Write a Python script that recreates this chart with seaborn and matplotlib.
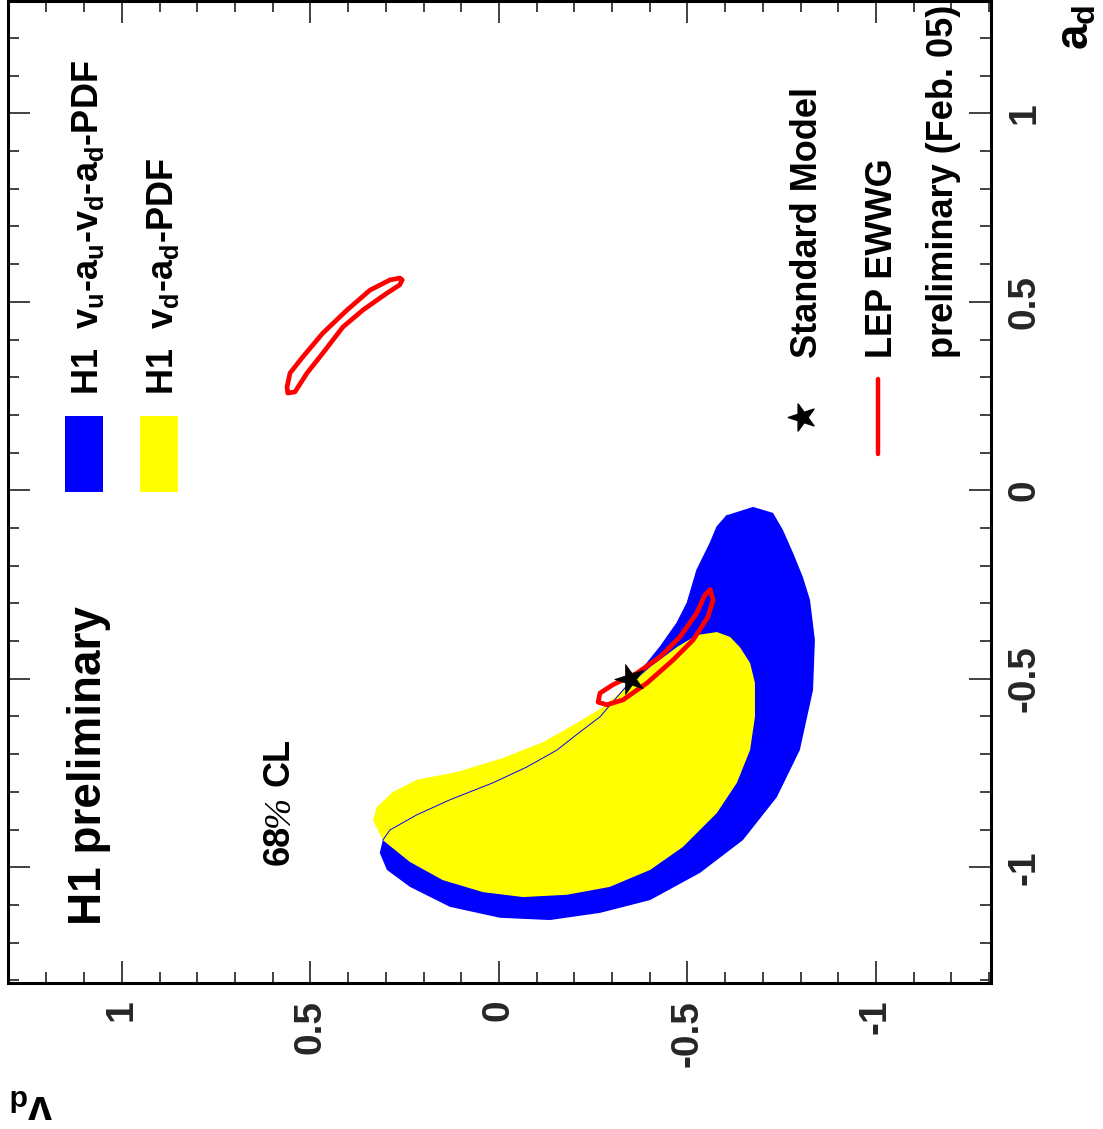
import numpy as np
import pandas as pd
import matplotlib
matplotlib.use("Agg")
import matplotlib.pyplot as plt
import seaborn as sns
from matplotlib.patches import Rectangle
from matplotlib.markers import MarkerStyle
from matplotlib.transforms import Affine2D
from matplotlib.ticker import MultipleLocator, FixedLocator

# ---------------- data (v_d, a_d) ----------------
blue_outer_vd = [-0.674, -0.727, -0.753, -0.780, -0.806, -0.825, -0.838, -0.833, -0.798, -0.737,
                 -0.647, -0.533, -0.401, -0.268, -0.135, -0.003, 0.130, 0.236, 0.297, 0.316, 0.308]
blue_outer_ad = [-0.044, -0.060, -0.105, -0.166, -0.230, -0.291, -0.397, -0.530, -0.689, -0.814,
                 -0.928, -1.015, -1.087, -1.121, -1.140, -1.134, -1.105, -1.052, -1.007, -0.962, -0.928]
blue_inner_vd = [0.289, 0.218, 0.130, 0.016, -0.074, -0.154, -0.215, -0.268, -0.329, -0.393,
                 -0.427, -0.472, -0.499, -0.525, -0.560, -0.578, -0.605]
blue_inner_ad = [-0.901, -0.861, -0.821, -0.776, -0.734, -0.689, -0.641, -0.601, -0.530, -0.458,
                 -0.416, -0.352, -0.299, -0.211, -0.140, -0.097, -0.066]

yellow_vd = [-0.578, -0.613, -0.639, -0.666, -0.679, -0.679, -0.666, -0.631, -0.578, -0.488,
             -0.401, -0.294, -0.180, -0.064, 0.042, 0.149, 0.236, 0.308, 0.334, 0.324,
             0.281, 0.218, 0.111, -0.011, -0.117, -0.207, -0.276, -0.340, -0.401, -0.472, -0.525]
yellow_ad = [-0.376, -0.389, -0.416, -0.458, -0.511, -0.601, -0.689, -0.776, -0.856, -0.946,
             -1.007, -1.052, -1.073, -1.079, -1.066, -1.034, -0.986, -0.928, -0.875, -0.840,
             -0.800, -0.768, -0.747, -0.710, -0.668, -0.617, -0.575, -0.522, -0.469, -0.416, -0.384]

lep1_vd = [-0.560, -0.568, -0.554, -0.515, -0.462, -0.393, -0.329, -0.286, -0.263, -0.268,
           -0.302, -0.366, -0.427, -0.480, -0.525, -0.546]
lep1_ad = [-0.264, -0.291, -0.336, -0.397, -0.450, -0.511, -0.556, -0.569, -0.562, -0.538,
           -0.516, -0.485, -0.442, -0.389, -0.325, -0.278]

lep2_vd = [0.257, 0.263, 0.297, 0.361, 0.414, 0.467, 0.509, 0.541, 0.560, 0.562,
           0.554, 0.520, 0.467, 0.403, 0.342, 0.289, 0.263]
lep2_ad = [0.558, 0.545, 0.523, 0.478, 0.433, 0.364, 0.311, 0.261, 0.258, 0.274,
           0.311, 0.354, 0.417, 0.478, 0.531, 0.558, 0.563]

sm_vd = [-0.347]
sm_ad = [-0.500]

tick_values = [1, 0.5, 0, -0.5, -1]
tick_labels = ["1", "0.5", "0", "-0.5", "-1"]

# ---------------- style ----------------
sns.set_style("white")
plt.rcParams['font.family'] = ['Liberation Sans', 'DejaVu Sans']
plt.rcParams['font.weight'] = 'bold'
plt.rcParams['mathtext.fontset'] = 'custom'
plt.rcParams['mathtext.rm'] = 'Liberation Sans:bold'
plt.rcParams['mathtext.bf'] = 'Liberation Sans:bold'
plt.rcParams['mathtext.it'] = 'Liberation Sans:italic'
plt.rcParams['mathtext.default'] = 'rm'

W, H = 1103, 1129
fig = plt.figure(figsize=(W / 100, H / 100), dpi=100)
L, R, T, B = 8, 991, 1, 983
ax = fig.add_axes([L / W, 1 - B / H, (R - L) / W, (B - T) / H])

BLUE, YELLOW, RED = '#0000ff', '#ffff00', '#ff0000'

# filled contours
ax.fill(blue_outer_vd + blue_inner_vd, blue_outer_ad + blue_inner_ad, color=BLUE, lw=0, zorder=1)
ax.fill(yellow_vd, yellow_ad, color=YELLOW, lw=0, zorder=2)
ax.plot([blue_outer_vd[-1]] + blue_inner_vd, [blue_outer_ad[-1]] + blue_inner_ad,
        color=BLUE, lw=0.7, zorder=3)

# LEP contours
for vd, ad in [(lep1_vd, lep1_ad), (lep2_vd, lep2_ad)]:
    df = pd.DataFrame({"vd": vd + vd[:1], "ad": ad + ad[:1]})
    sns.lineplot(data=df, x="vd", y="ad", sort=False, estimator=None, color=RED,
                 lw=3.4, ax=ax, zorder=4)

star = MarkerStyle('*', transform=Affine2D().rotate_deg(90))
sns.scatterplot(x=sm_vd, y=sm_ad, marker=star, s=520, color='black', edgecolor='black',
                linewidth=0.5, ax=ax, zorder=5)

# axes
ax.set_xlim(1.302, -1.305)
ax.set_ylim(-1.307, 1.298)
ax.set_xlabel("")
ax.set_ylabel("")
ax.xaxis.set_major_locator(FixedLocator(tick_values))
ax.yaxis.set_major_locator(FixedLocator(tick_values))
ax.set_xticklabels(tick_labels)
ax.set_yticklabels(tick_labels)
ax.xaxis.set_minor_locator(MultipleLocator(0.1))
ax.yaxis.set_minor_locator(MultipleLocator(0.1))
ax.tick_params(axis='x', which='both', top=True, bottom=True, labeltop=False, labelbottom=True)
ax.tick_params(axis='y', which='both', left=True, right=True, labelleft=False, labelright=True)
ax.tick_params(which='both', direction='in', color='#333333', width=1.3)
ax.tick_params(which='major', length=16)
ax.tick_params(which='minor', length=8)
ax.tick_params(axis='x', labelrotation=90, pad=12, labelsize=28)
ax.tick_params(axis='y', labelrotation=90, pad=11.5, labelsize=28)
for lbl in ax.get_yticklabels():
    lbl.set_va('center')
    lbl.set_ha('left')
for lbl in ax.get_xticklabels():
    lbl.set_ha('center')
    lbl.set_va('top')
for s in ax.spines.values():
    s.set_linewidth(2.2)
    s.set_color('black')
    s.set_visible(True)


def fxy(px, py):
    return px / W, 1 - py / H


def axy(px, py):
    return (px - L) / (R - L), (B - py) / (B - T)


def vtext(px, py, s, size, rot=90, **kw):
    x, y = fxy(px, py)
    opts = dict(fontweight='bold', color='black')
    opts.update(kw)
    fig.text(x, y, s, rotation=rot, rotation_mode='anchor', ha='left', va='baseline',
             fontsize=size, **opts)


# legend boxes
for x0, col in [(65, BLUE), (140, YELLOW)]:
    ax.add_patch(Rectangle(axy(x0, 492), (38) / (R - L), (492 - 416) / (B - T),
                           transform=ax.transAxes, color=col, lw=0, zorder=6))
vtext(98, 395, r"H1  v$_{u}$-a$_{u}$-v$_{d}$-a$_{d}$-PDF", 26)
vtext(173, 395, r"H1  v$_{d}$-a$_{d}$-PDF", 26)

vtext(101, 925, "H1 preliminary", 33)
vtext(289, 865, "68", 26)
vtext(289, 827, "%", 27, family='Liberation Serif', fontweight='normal', style='italic')
vtext(289, 786, "CL", 26)

# SM / LEP legend
ax.scatter(*axy(802, 417), marker=star, s=420, color='black', transform=ax.transAxes, zorder=6)
ax.plot([axy(878, 379)[0], axy(878, 454)[0]], [axy(878, 379)[1], axy(878, 454)[1]],
        color=RED, lw=3.2, transform=ax.transAxes, zorder=6)
vtext(817, 358, "Standard Model", 26)
vtext(892, 358, "LEP EWWG", 26)
vtext(953, 358, "preliminary (Feb. 05)", 26)

# axis titles
vtext(1089, 50, r"a$_{d}$", 33)
vtext(53, 1095, r"v$_{d}$", 31, rot=180)

fig.savefig("out.png", dpi=100)
